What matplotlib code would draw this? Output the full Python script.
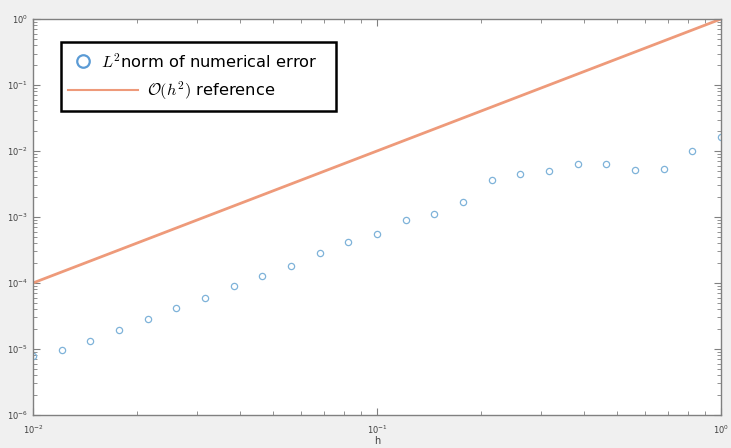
import numpy as np
import matplotlib
matplotlib.use("Agg")
import matplotlib.pyplot as plt
from matplotlib.patches import Rectangle
from matplotlib.lines import Line2D

plt.rcParams['mathtext.fontset'] = 'cm'

# step sizes: 25 points, 12 per decade from 1e-2 to 1
h = 10.0 ** np.linspace(-2, 0, 25)

# L2 error measured for each step size
err = [7.8e-6, 9.7e-6, 1.34e-5, 1.94e-5, 2.81e-5, 4.18e-5, 6.0e-5, 9.0e-5,
       1.29e-4, 1.81e-4, 2.82e-4, 4.2e-4, 5.52e-4, 9.1e-4, 1.12e-3, 1.67e-3,
       3.68e-3, 4.54e-3, 5.04e-3, 6.43e-3, 6.43e-3, 5.15e-3, 5.34e-3,
       1.01e-2, 1.65e-2]

ref = h ** 2

err_color = '#7fb3d9'
ref_color = '#ee9a7a'
err_label = r'$L^2$norm of numerical error'
ref_label = r'$\mathcal{O}(h^2)$ reference'

fig = plt.figure(figsize=(7.31, 4.48), dpi=100, facecolor='#f0f0f0')
ax = fig.add_axes([0.0451, 0.0737, 0.9412, 0.8839])

ax.loglog(h, err, 'o', markersize=4.5, markerfacecolor='none',
          markeredgecolor=err_color, markeredgewidth=0.9)
ax.loglog(h, ref, '-', color=ref_color, linewidth=2)

ax.set_xlim(1e-2, 1)
ax.set_ylim(1e-6, 1)

for s in ax.spines.values():
    s.set_color('#808080')
    s.set_linewidth(1)
ax.tick_params(which='both', direction='in', top=True, right=True,
               colors='#808080', labelcolor='#404040', labelsize=6)
ax.tick_params(which='major', length=5)
ax.tick_params(which='minor', length=3)
ax.tick_params(axis='x', pad=6)

ax.set_xlabel('h', fontsize=7, color='#404040', labelpad=0)

# legend box, laid out by hand (marker and text positions per row)
tr = ax.transAxes
ax.add_patch(Rectangle((0.0407, 0.768), 0.3997, 0.174, transform=tr,
                       facecolor='white', edgecolor='black', linewidth=1.8,
                       zorder=5))
ax.add_line(Line2D([0.0727], [0.893], transform=tr, marker='o',
                   markersize=9, markerfacecolor='none',
                   markeredgecolor='#5b9bd5', markeredgewidth=1.6, zorder=6))
ax.add_line(Line2D([0.0509, 0.1526], [0.82, 0.82], transform=tr,
                   color=ref_color, linewidth=1.5, zorder=6))
ax.text(0.0995, 0.893, err_label, transform=tr, fontsize=11.7,
        va='center', ha='left', zorder=7)
ax.text(0.1657, 0.82, ref_label, transform=tr, fontsize=11.7,
        va='center', ha='left', zorder=7)

fig.savefig('out.png', dpi=100, facecolor=fig.get_facecolor())
